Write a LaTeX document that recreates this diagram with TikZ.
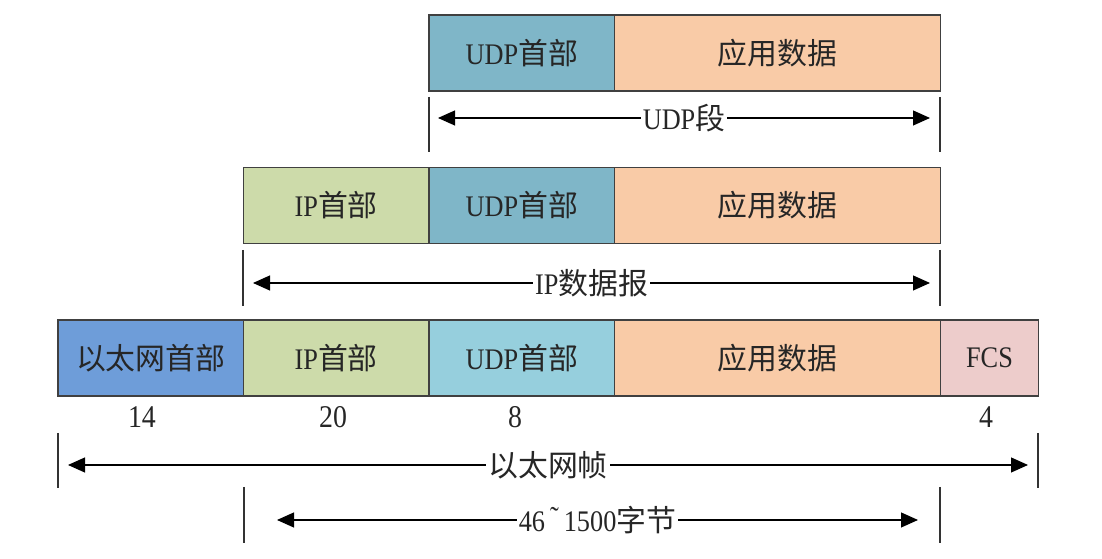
\documentclass[tikz,border=0pt]{standalone}
\usepackage{fontspec}
\setmainfont[FakeStretch=0.88]{Liberation Serif}
\newfontfamily\cjk{Noto Sans CJK SC}
\usetikzlibrary{arrows.meta}

\definecolor{udpdark}{RGB}{127,182,200}
\definecolor{udplight}{RGB}{150,207,221}
\definecolor{appdata}{RGB}{249,203,167}
\definecolor{iphdr}{RGB}{205,219,170}
\definecolor{ethhdr}{RGB}{110,157,217}
\definecolor{fcsfill}{RGB}{237,204,203}

\newcommand\pkttextstyle{\fontsize{17}{20}\selectfont\color{black!85}}
\newcommand\pktheight{1.52}
\newcommand\startrow[1]{\pgfmathparse{#1}\let\x\pgfmathresult}
\newcommand\rowfield[4]{
  \node[field, fill=#3, minimum width=#2 cm] (#1) at (\x + #2 * 0.5, 0) {#4};
  \pgfmathparse{\x + #2}\let\x\pgfmathresult
}

\tikzset{
  field/.style={draw=black!75, line width=.6pt, minimum height=\pktheight cm,
    inner sep=0pt, outer sep=0pt, font=\pkttextstyle},
  tickline/.style={draw=black!80, line width=.6pt},
  sizebar/.style={draw=black, line width=.6pt,
    {Triangle[length=.34cm, width=.3cm]}-{Triangle[length=.34cm, width=.3cm]}},
  barlabel/.style={fill=white, inner sep=1pt, font=\pkttextstyle},
  num/.style={font=\pkttextstyle\fontsize{18}{20}\selectfont}
}

\begin{document}
\begin{tikzpicture}
    \useasboundingbox (0, 0) rectangle (22.04, 11.18);
    % UDP segment
    \begin{scope}[yshift=10.12cm]
      \startrow{8.58}
      \rowfield{udpA}{3.71}{udpdark}{UDP{\cjk 首部}}
      \rowfield{appA}{6.52}{appdata}{\cjk 应用数据}
    \end{scope}
    % IP datagram
    \begin{scope}[yshift=7.07cm]
      \startrow{4.87}
      \rowfield{ipB}{3.71}{iphdr}{IP{\cjk 首部}}
      \rowfield{udpB}{3.71}{udpdark}{UDP{\cjk 首部}}
      \rowfield{appB}{6.52}{appdata}{\cjk 应用数据}
    \end{scope}
    % Ethernet frame
    \begin{scope}[yshift=4.02cm]
      \startrow{1.16}
      \rowfield{ethC}{3.71}{ethhdr}{\cjk 以太网首部}
      \rowfield{ipC}{3.71}{iphdr}{IP{\cjk 首部}}
      \rowfield{udpC}{3.71}{udplight}{UDP{\cjk 首部}}
      \rowfield{appC}{6.52}{appdata}{\cjk 应用数据}
      \rowfield{fcsC}{1.96}{fcsfill}{FCS}
    \end{scope}
    \node[num] (ethlen) at (2.84, 2.84) {14};
    \node[num] (iplen) at (6.66, 2.84) {20};
    \node[num] (udplen) at (10.30, 2.84) {8};
    \node[num] (fcslen) at (19.72, 2.84) {4};

    \coordinate (segL) at (8.58, 9.24);
    \coordinate (segR) at (18.80, 9.24);
    \draw[tickline] (segL) -- ++(0, -1.1);
    \draw[tickline] (segR) -- ++(0, -1.1);
    \draw[sizebar] ([xshift=.18cm, yshift=-.42cm]segL)
       -- node[barlabel] {UDP{\cjk 段}} ([xshift=-.2cm, yshift=-.42cm]segR);

    \coordinate (dgL) at (4.86, 6.18);
    \coordinate (dgR) at (18.80, 6.18);
    \draw[tickline] (dgL) -- ++(0, -1.12);
    \draw[tickline] (dgR) -- ++(0, -1.12);
    \draw[sizebar] ([xshift=.2cm, yshift=-.66cm]dgL)
       -- node[barlabel] {IP{\cjk 数据报}} ([xshift=-.2cm, yshift=-.66cm]dgR);

    \coordinate (frL) at (1.16, 2.52);
    \coordinate (frR) at (20.76, 2.52);
    \draw[tickline] (frL) -- ++(0, -1.1);
    \draw[tickline] (frR) -- ++(0, -1.1);
    \draw[sizebar] ([xshift=.2cm, yshift=-.64cm]frL)
       -- node[barlabel] {\cjk 以太网帧} ([xshift=-.2cm, yshift=-.64cm]frR);

    \coordinate (plL) at (4.88, 1.44);
    \coordinate (plR) at (18.80, 1.44);
    \draw[tickline] (plL) -- ++(0, -1.12);
    \draw[tickline] (plR) -- ++(0, -1.12);
    \draw[sizebar] ([xshift=.66cm, yshift=-.66cm]plL)
       -- node[barlabel] {46\,\raisebox{.3ex}{\char"02DC}\,1500{\cjk 字节}} ([xshift=-.44cm, yshift=-.66cm]plR);
  \end{tikzpicture}
\end{document}
